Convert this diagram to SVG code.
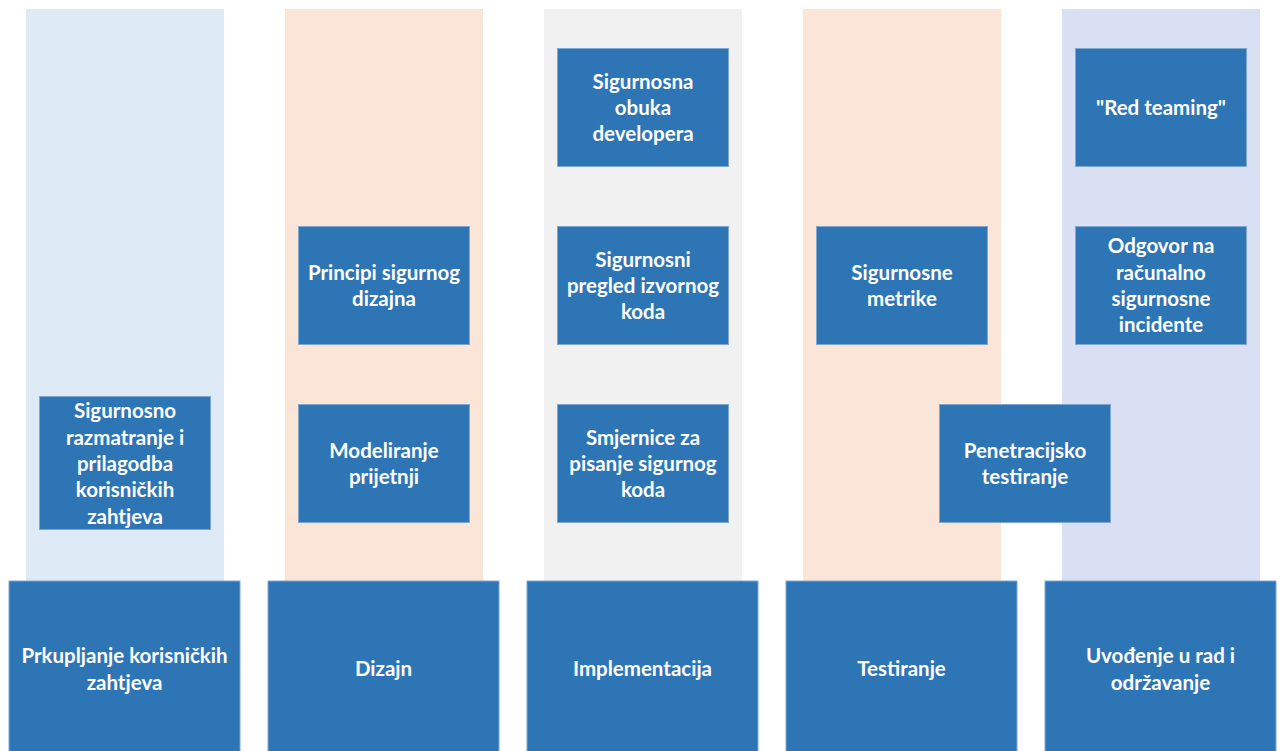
<svg xmlns="http://www.w3.org/2000/svg" width="1280" height="751" viewBox="0 0 1280 751">
<style>
.band{stroke:none}
.box{fill:#2E75B6;stroke:#7FA7D3;stroke-width:1}
.t{font-family:Lato,"Open Sans","Liberation Sans",sans-serif;font-weight:bold;font-size:20.5px;fill:#ffffff;text-anchor:middle;dominant-baseline:central}
</style>
<rect width="1280" height="751" fill="#ffffff"/>
<g id="bands">
<rect class="band" x="26" y="9" width="198" height="572" fill="#DEEAF6"/>
<rect class="band" x="285" y="9" width="198" height="572" fill="#FBE5D6"/>
<rect class="band" x="544" y="9" width="198" height="572" fill="#F1F1F1"/>
<rect class="band" x="803" y="9" width="198" height="572" fill="#FBE5D6"/>
<rect class="band" x="1062" y="9" width="198" height="572" fill="#DAE0F3"/>
</g>
<g id="connectors"></g>
<g id="phase1"><rect class="box" x="9" y="581" width="231" height="171"/><text class="t" x="124.5" y="655">Prkupljanje korisničkih</text><text class="t" x="124.5" y="682">zahtjeva</text></g>
<g id="phase2"><rect class="box" x="268" y="581" width="231" height="171"/><text class="t" x="383.5" y="668">Dizajn</text></g>
<g id="phase3"><rect class="box" x="527" y="581" width="231" height="171"/><text class="t" x="642.5" y="668">Implementacija</text></g>
<g id="phase4"><rect class="box" x="786" y="581" width="231" height="171"/><text class="t" x="901.5" y="668">Testiranje</text></g>
<g id="phase5"><rect class="box" x="1045" y="581" width="231" height="171"/><text class="t" x="1160.5" y="655">Uvođenje u rad i</text><text class="t" x="1160.5" y="682">održavanje</text></g>

<g id="n-req"><rect class="box" x="39.5" y="396.5" width="171" height="133"/>
<text class="t" x="125" y="410">Sigurnosno</text><text class="t" x="125" y="437">razmatranje i</text><text class="t" x="125" y="463">prilagodba</text><text class="t" x="125" y="489">korisničkih</text><text class="t" x="125" y="516">zahtjeva</text></g>

<g id="n-principi"><rect class="box" x="298.5" y="226.5" width="171" height="118"/>
<text class="t" x="384" y="272">Principi sigurnog</text><text class="t" x="384" y="298">dizajna</text></g>
<g id="n-modeliranje"><rect class="box" x="298.5" y="404.5" width="171" height="118"/>
<text class="t" x="384" y="450">Modeliranje</text><text class="t" x="384" y="476">prijetnji</text></g>

<g id="n-obuka"><rect class="box" x="557.5" y="48.5" width="171" height="118"/>
<text class="t" x="643" y="81">Sigurnosna</text><text class="t" x="643" y="107">obuka</text><text class="t" x="643" y="133">developera</text></g>
<g id="n-pregled"><rect class="box" x="557.5" y="226.5" width="171" height="118"/>
<text class="t" x="643" y="259">Sigurnosni</text><text class="t" x="643" y="285">pregled izvornog</text><text class="t" x="643" y="311">koda</text></g>
<g id="n-smjernice"><rect class="box" x="557.5" y="404.5" width="171" height="118"/>
<text class="t" x="643" y="437">Smjernice za</text><text class="t" x="643" y="463">pisanje sigurnog</text><text class="t" x="643" y="489">koda</text></g>

<g id="n-metrike"><rect class="box" x="816.5" y="226.5" width="171" height="118"/>
<text class="t" x="902" y="272">Sigurnosne</text><text class="t" x="902" y="298">metrike</text></g>
<g id="n-penetracijsko"><rect class="box" x="939.5" y="404.5" width="171" height="118"/>
<text class="t" x="1025" y="450">Penetracijsko</text><text class="t" x="1025" y="476">testiranje</text></g>

<g id="n-red"><rect class="box" x="1075.5" y="48.5" width="171" height="118"/>
<text class="t" x="1161" y="107">"Red teaming"</text></g>
<g id="n-odgovor"><rect class="box" x="1075.5" y="226.5" width="171" height="118"/>
<text class="t" x="1161" y="245">Odgovor na</text><text class="t" x="1161" y="272">računalno</text><text class="t" x="1161" y="298">sigurnosne</text><text class="t" x="1161" y="324">incidente</text></g>
</svg>
